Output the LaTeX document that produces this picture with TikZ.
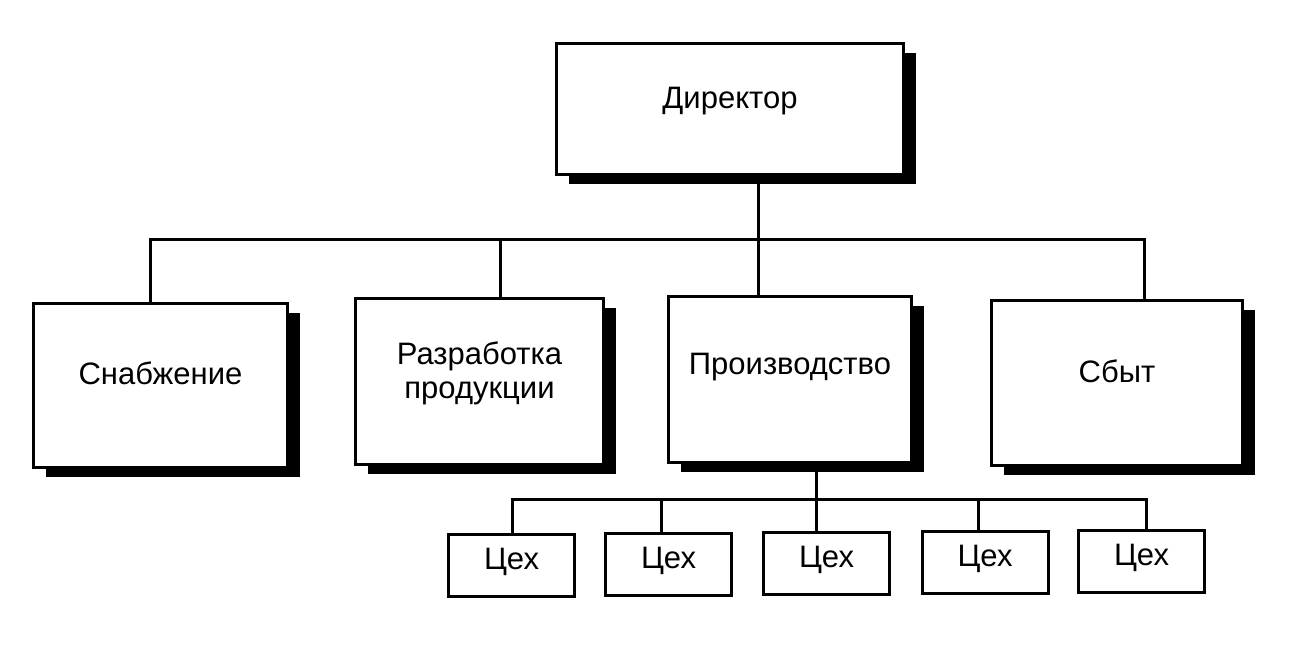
\documentclass[tikz,border=0pt]{standalone}
\usepackage{fontspec}
\setmainfont{Liberation Sans}
\usetikzlibrary{shadows}
\begin{document}
\begin{tikzpicture}[x=0.5pt,y=-0.5pt,
  bigbox/.style={draw=black, line width=1.5pt, fill=white, rectangle, inner sep=0pt,
    drop shadow={shadow xshift=6pt, shadow yshift=-4.5pt, fill=black, opacity=1}},
  smallbox/.style={draw=black, line width=1.5pt, fill=white, rectangle, inner sep=0pt,
    minimum width=63pt, minimum height=31pt},
  lbl/.style={inner sep=0pt, align=center, font=\fontsize{15.5}{17}\selectfont},
  conn/.style={line width=1.5pt, line cap=rect}]
\useasboundingbox (0,0) rectangle (1293,664);
% boxes
\node[bigbox, minimum width=173.5pt, minimum height=65.5pt] (dir) at (730,109) {};
\node[bigbox, minimum width=127pt, minimum height=82pt] (snab) at (160.5,385.5) {};
\node[bigbox, minimum width=124pt, minimum height=83pt] (razr) at (479.5,381.5) {};
\node[bigbox, minimum width=121.5pt, minimum height=83pt] (prod) at (790,379.5) {};
\node[bigbox, minimum width=125.5pt, minimum height=82.5pt] (sbyt) at (1117,383) {};
\node[smallbox] (c1) at (511.5,565.5) {};
\node[smallbox] (c2) at (668.5,564.5) {};
\node[smallbox] (c3) at (826.5,563.5) {};
\node[smallbox] (c4) at (985,562.5) {};
\node[smallbox] (c5) at (1141.5,561.5) {};
% labels
\node[lbl] (tdir) at ([yshift=4pt]dir.center) {Директор};
\node[lbl] (tsnab) at ([yshift=6pt]snab.center) {Снабжение};
\node[lbl] (trazr) at ([yshift=4pt]razr.center) {Разработка\\продукции};
\node[lbl] (tprod) at ([yshift=6pt]prod.center) {Производство};
\node[lbl] (tsbyt) at ([yshift=6pt]sbyt.center) {Сбыт};
\foreach \i in {1,...,5}{\node[lbl] (tc\i) at ([yshift=2pt]c\i.center) {Цех};}
% bus coordinates
\coordinate (b1) at (150,239);
\coordinate (b2) at (500,239);
\coordinate (b3) at (758,239);
\coordinate (b4) at (1144,239);
\coordinate (s1) at (512,499);
\coordinate (s2) at (661,499);
\coordinate (s3) at (816,499);
\coordinate (s4) at (978,499);
\coordinate (s5) at (1146,499);
% connectors
\draw[conn] (snab.north -| b1) -- (b1) -- (b4) -- (sbyt.north -| b4);
\draw[conn] (dir.south -| b3) -- (prod.north -| b3);
\draw[conn] (b2) -- (razr.north -| b2);
\draw[conn] (c1.north -| s1) -- (s1) -- (s5) -- (c5.north -| s5);
\draw[conn] (prod.south -| s3) -- (c3.north -| s3);
\draw[conn] (s2) -- (c2.north -| s2);
\draw[conn] (s4) -- (c4.north -| s4);
\end{tikzpicture}
\end{document}
